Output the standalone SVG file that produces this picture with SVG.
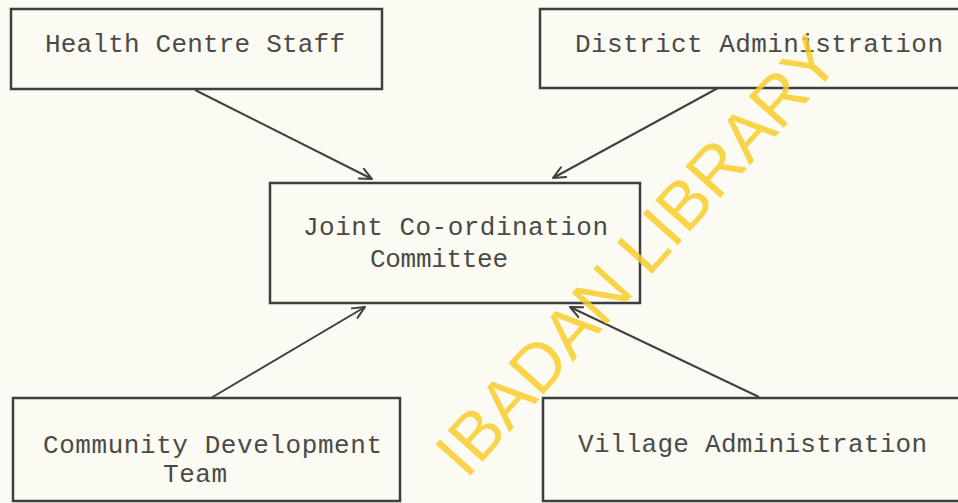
<svg xmlns="http://www.w3.org/2000/svg" width="958" height="503" viewBox="0 0 958 503">
  <style>
    .box { fill: none; stroke: #3e3e3e; stroke-width: 2.5; }
    .lbl { font-family: "Liberation Mono", "DejaVu Sans Mono", monospace; font-size: 26px; fill: #4a4a4a; }
    .conn { fill: none; stroke: #404040; stroke-width: 2; }
    .wm { font-family: "Liberation Sans", Arial, sans-serif; font-size: 68px; fill: #f8cc2a; fill-opacity: 0.85; }
  </style>
  <defs>
    <marker id="arr" viewBox="0 0 14 14" refX="13" refY="7" markerWidth="14" markerHeight="14" markerUnits="userSpaceOnUse" orient="auto">
      <path d="M1,1.5 L13,7 L1,12.5" fill="none" stroke="#404040" stroke-width="2" stroke-linecap="round" stroke-linejoin="round"/>
    </marker>
  </defs>
  <rect x="0" y="0" width="958" height="503" fill="#fbfaf3"/>

  <g id="connectors">
    <line class="conn" x1="195" y1="90" x2="372" y2="179" marker-end="url(#arr)"/>
    <line class="conn" x1="718" y1="88" x2="553" y2="178" marker-end="url(#arr)"/>
    <line class="conn" x1="211" y1="398" x2="365" y2="307" marker-end="url(#arr)"/>
    <line class="conn" x1="759" y1="397" x2="570" y2="307" marker-end="url(#arr)"/>
  </g>

  <g id="health-centre-staff">
    <rect class="box" x="11" y="9" width="371" height="80"/>
    <text class="lbl" x="45" y="52" textLength="300" lengthAdjust="spacing">Health Centre Staff</text>
  </g>
  <g id="district-administration">
    <rect class="box" x="540" y="9" width="430" height="79"/>
    <text class="lbl" x="575" y="52" textLength="368" lengthAdjust="spacing">District Administration</text>
  </g>
  <g id="joint-coordination-committee">
    <rect class="box" x="270" y="183" width="370" height="120"/>
    <text class="lbl" x="303" y="235" textLength="305" lengthAdjust="spacing">Joint Co-ordination</text>
    <text class="lbl" x="370" y="267" textLength="138" lengthAdjust="spacing">Committee</text>
  </g>
  <g id="community-development-team">
    <rect class="box" x="13" y="398" width="387" height="103"/>
    <text class="lbl" x="43" y="453" textLength="339" lengthAdjust="spacing">Community Development</text>
    <text class="lbl" x="163" y="482" textLength="64" lengthAdjust="spacing">Team</text>
  </g>
  <g id="village-administration">
    <rect class="box" x="543" y="398" width="430" height="103"/>
    <text class="lbl" x="578" y="452" textLength="349" lengthAdjust="spacing">Village Administration</text>
  </g>

  <g id="watermark">
    <text class="wm" x="0" y="0" dy="0.36em" text-anchor="middle" transform="translate(636,255) rotate(-48)">IBADAN LIBRARY</text>
  </g>
</svg>
